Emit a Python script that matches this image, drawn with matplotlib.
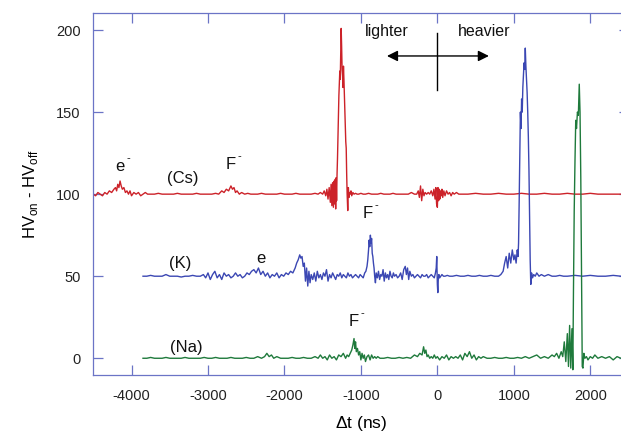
import matplotlib.pyplot as plt

plt.rcParams['font.family'] = ['Liberation Sans', 'DejaVu Sans']
plt.rcParams['mathtext.fontset'] = 'custom'
plt.rcParams['mathtext.rm'] = 'Liberation Sans'
plt.rcParams['axes.unicode_minus'] = False

# HV_on - HV_off difference traces vs time shift (ns), offset by 100 / 50 / 0
cs_t = [-4500, -4470, -4440, -4410, -4380, -4350, -4320, -4290, -4260, -4230,
        -4210, -4195, -4180, -4165, -4150, -4135, -4120, -4100, -4080, -4060,
        -4040, -4020, -4000, -3970, -3940, -3910, -3880, -3850, -3820, -3790,
        -3750, -3700, -3650, -3600, -3550, -3500, -3450, -3400, -3350, -3300,
        -3250, -3200, -3150, -3100, -3050, -3000, -2950, -2900, -2860, -2820,
        -2790, -2760, -2730, -2700, -2680, -2660, -2640, -2620, -2590, -2560,
        -2520, -2480, -2440, -2400, -2350, -2300, -2250, -2200, -2150, -2100,
        -2050, -2000, -1950, -1900, -1850, -1800, -1750, -1700, -1650, -1600,
        -1560, -1530, -1500, -1480, -1460, -1445, -1430, -1415, -1400, -1390,
        -1380, -1370, -1360, -1350, -1342, -1336, -1330, -1324, -1318, -1312,
        -1306, -1300, -1294, -1288, -1282, -1276, -1270, -1264, -1258, -1252,
        -1246, -1240, -1234, -1228, -1222, -1216, -1210, -1204, -1198, -1192,
        -1186, -1180, -1172, -1164, -1156, -1148, -1140, -1130, -1120, -1105,
        -1090, -1070, -1050, -1030, -1000, -970, -940, -900, -860, -820,
        -780, -740, -700, -660, -620, -580, -540, -500, -460, -420,
        -380, -340, -300, -270, -250, -235, -220, -205, -190, -175,
        -160, -140, -120, -100, -80, -60, -45, -30, -20, -10,
        0, 8, 16, 24, 32, 40, 50, 60, 70, 85,
        100, 120, 140, 160, 180, 200, 220, 250, 280, 310,
        350, 400, 500, 600, 700, 800, 900, 1000, 1100, 1200,
        1300, 1400, 1500, 1600, 1700, 1800, 1900, 2000, 2100, 2200,
        2300, 2400, 2500]
cs_v = [100, 99, 101, 100, 99, 101, 100, 102, 101, 103,
        104, 102, 106, 104, 108, 105, 103, 104, 101, 102,
        100, 102, 99, 101, 100, 101, 99, 100, 101, 100,
        100, 100, 100.5, 100, 100, 100, 100, 100.5, 100, 100,
        100, 100, 100.5, 100, 100, 100, 100, 100.5, 100, 102,
        101, 103, 102, 105, 103, 104, 101, 102, 100, 101,
        100, 100.5, 100, 100, 100, 100.5, 100, 100, 100, 100,
        100.5, 100, 100, 100, 100.5, 100, 100, 100, 100, 100.5,
        100, 101, 100, 102, 99, 103, 97, 104, 95, 106,
        93, 107, 92, 108, 94, 109, 91, 110, 96, 112,
        122, 135, 150, 160, 168, 175, 170, 185, 201, 190,
        176, 172, 165, 178, 170, 160, 148, 140, 132, 128,
        112, 100, 90, 104, 98, 101, 100, 102, 99, 101,
        100, 100.5, 100, 100, 100.5, 100, 100, 100.5, 100, 100,
        100, 100.5, 100, 100, 100, 100.5, 100, 100, 100, 100,
        100, 101, 100, 100, 102, 98, 105, 96, 103, 99,
        101, 100, 101, 100, 102, 99, 103, 97, 104, 94,
        92, 104, 96, 103, 97, 102, 99, 103, 98, 102,
        99, 102, 100, 101, 99, 101, 100, 101, 100, 100,
        100, 100, 100.5, 100, 100, 100.5, 100, 100, 100.5, 100,
        100, 100.5, 100, 100, 100.5, 100, 100, 100.5, 100, 100,
        100, 100, 100]

k_t = [-3850, -3800, -3750, -3700, -3650, -3600, -3550, -3500, -3450, -3400,
       -3350, -3300, -3250, -3200, -3150, -3100, -3060, -3030, -3000, -2970,
       -2940, -2910, -2880, -2850, -2820, -2790, -2760, -2730, -2700, -2670,
       -2640, -2610, -2580, -2550, -2520, -2490, -2460, -2430, -2400, -2370,
       -2340, -2310, -2280, -2250, -2220, -2190, -2160, -2130, -2100, -2070,
       -2040, -2010, -1980, -1950, -1920, -1890, -1860, -1840, -1820, -1800,
       -1785, -1770, -1755, -1740, -1725, -1710, -1695, -1680, -1665, -1650,
       -1630, -1610, -1590, -1570, -1550, -1530, -1510, -1490, -1470, -1450,
       -1430, -1410, -1390, -1370, -1350, -1330, -1310, -1290, -1270, -1250,
       -1230, -1210, -1190, -1170, -1150, -1130, -1110, -1090, -1070, -1050,
       -1030, -1010, -990, -970, -950, -935, -920, -910, -900, -892,
       -884, -876, -868, -860, -852, -844, -836, -828, -820, -810,
       -800, -785, -770, -755, -740, -725, -710, -695, -680, -665,
       -650, -635, -620, -605, -590, -575, -560, -540, -520, -500,
       -480, -460, -440, -420, -405, -390, -375, -360, -340, -320,
       -300, -280, -260, -240, -220, -200, -180, -160, -140, -120,
       -100, -80, -60, -40, -25, -15, -8, 0, 6, 12,
       20, 30, 45, 60, 80, 100, 130, 160, 200, 250,
       300, 350, 400, 450, 500, 550, 600, 650, 700, 750,
       800, 830, 860, 880, 900, 920, 940, 960, 980, 1000,
       1015, 1030, 1045, 1055, 1062, 1070, 1078, 1086, 1094, 1102,
       1110, 1118, 1126, 1134, 1142, 1150, 1158, 1166, 1174, 1182,
       1190, 1198, 1206, 1214, 1222, 1232, 1245, 1260, 1280, 1300,
       1330, 1360, 1400, 1450, 1500, 1550, 1600, 1650, 1700, 1800,
       1900, 2000, 2100, 2200, 2300, 2400, 2500]
k_v = [50, 50, 50.5, 50, 50, 50, 51, 50, 50, 50,
       49.5, 50, 50, 50.5, 50, 50, 51, 49, 52, 48,
       51, 53, 49, 51, 48, 52, 50, 51, 49, 50,
       52, 50, 51, 49, 50, 52, 51, 53, 54, 52,
       55, 51, 53, 50, 52, 49, 51, 50, 52, 49,
       51, 50, 52, 51, 53, 52, 55, 58, 60, 63,
       61, 62, 56, 58, 47, 55, 44, 53, 46, 51,
       48, 52, 47, 53, 49, 51, 48, 52, 50, 54,
       47, 51, 49, 52, 50, 48, 51, 50, 52, 49,
       51, 50, 49, 52, 50, 51, 49, 50, 51, 50,
       49, 51, 50, 49, 52, 53, 56, 60, 66, 72,
       68, 75, 70, 73, 64, 62, 58, 55, 50, 46,
       52, 49, 53, 48, 51, 50, 54, 47, 52, 49,
       51, 48, 53, 50, 49, 52, 50, 51, 49, 50,
       52, 48, 54, 56, 51, 55, 48, 53, 50, 51,
       49, 50, 51, 50, 49, 51, 50, 50, 51, 49,
       50, 51, 50, 49, 52, 55, 62, 45, 40, 48,
       51, 49, 50, 51, 50, 50, 50.5, 50, 50, 50.5,
       50, 50, 50.5, 50, 50, 50.5, 50, 50, 50.5, 50,
       50, 51, 53, 58, 62, 55, 64, 58, 66, 60,
       63, 58, 66, 62, 70, 95, 125, 150, 140, 158,
       150, 165, 172, 180, 176, 189, 178, 170, 162, 150,
       135, 115, 85, 60, 45, 52, 49, 51, 50, 52,
       50, 51, 50, 51, 50, 50, 50.5, 50, 50, 50.5,
       50, 50.5, 50, 50, 50.5, 50, 50]

na_t = [-3850, -3800, -3750, -3700, -3650, -3600, -3550, -3500, -3450, -3400,
        -3350, -3300, -3250, -3200, -3150, -3100, -3050, -3000, -2950, -2900,
        -2850, -2800, -2750, -2700, -2650, -2600, -2550, -2500, -2450, -2400,
        -2350, -2300, -2260, -2230, -2200, -2170, -2140, -2100, -2050, -2000,
        -1950, -1900, -1850, -1800, -1750, -1700, -1650, -1600, -1560, -1530,
        -1500, -1470, -1440, -1410, -1380, -1350, -1320, -1290, -1260, -1230,
        -1200, -1180, -1160, -1140, -1120, -1105, -1090, -1080, -1070, -1060,
        -1045, -1030, -1015, -1000, -985, -970, -955, -940, -920, -900,
        -880, -860, -840, -820, -800, -780, -750, -700, -650, -600,
        -550, -500, -450, -400, -350, -300, -260, -230, -200, -180,
        -165, -150, -135, -120, -100, -80, -60, -40, -20, 0,
        30, 60, 90, 120, 150, 180, 210, 240, 270, 300,
        330, 360, 390, 420, 450, 480, 510, 540, 570, 600,
        650, 700, 750, 800, 850, 900, 950, 1000, 1050, 1100,
        1150, 1200, 1250, 1300, 1350, 1400, 1450, 1500, 1530, 1560,
        1590, 1620, 1640, 1660, 1680, 1700, 1715, 1730, 1745, 1760,
        1772, 1780, 1790, 1800, 1810, 1820, 1832, 1844, 1856, 1866,
        1876, 1886, 1895, 1904, 1916, 1930, 1950, 1970, 2000, 2030,
        2060, 2100, 2150, 2200, 2250, 2300, 2350, 2400, 2450, 2500]
na_v = [0, 0, 0.5, 0, 0, 0, 0.5, 0, 0, 0,
        0, 0.5, 0, 0, 0, 0, 0.5, 0, 0, 0.5,
        0, 0, 0, 0.5, 0, 0, 0, 0.5, 0, 0,
        1, 0, 1, 3, 1, 2, 0, 1, 0, 0,
        0, 0.5, 0, 0, 0.5, 0, 0, 1, 0, 2,
        0, 1, -1, 2, 0, 1, -1, 2, 1, 3,
        0, 2, 1, 3, 5, 8, 12, 6, 10, 4,
        6, 2, 4, -1, 3, 0, 2, -2, 1, 2,
        -1, 2, 0, 1, 0, 1, 0, 0, 0.5, 0,
        0, 0.5, 0, 0.5, 0, 2, 1, 3, 2, 7,
        3, 5, 1, 2, 0, 1, 0, 2, 0, 1,
        -1, 1, 0, 2, -1, 1, 0, 1, 0, 2,
        -1, 3, 1, 4, 0, 2, -1, 1, 0, 1,
        0, 0, 0.5, 0, 0, 0.5, 0, 0, 0.5, 0,
        1, 0, 1, 2, 0, 1, 0, 2, 1, 3,
        0, 4, 1, 10, -2, 15, -5, 20, -6, 18,
        -7, 40, 90, 120, 145, 140, 150, 148, 167, 150,
        110, 50, -5, -6, 3, 0, 1, -1, 1, 0,
        2, 0, 1, 0, 1, -1, 1, 0, 1, 0]

red = '#cc2229'
blue = '#3b47b3'
green = '#1f7a3c'
frame = '#6b74c6'

fig = plt.figure(figsize=(6.21, 4.37), dpi=100)
ax = fig.add_axes([93.3 / 621, 62 / 437, 535.2 / 621, 361.7 / 437])

ax.plot(cs_t, cs_v, color=red, lw=1.0)
ax.plot(k_t, k_v, color=blue, lw=1.0)
ax.plot(na_t, na_v, color=green, lw=1.0)

ax.set_xlim(-4500, 2500)
ax.set_ylim(-10.2, 210.2)
ax.set_xticks([-4000, -3000, -2000, -1000, 0, 1000, 2000])
ax.set_yticks([0, 50, 100, 150, 200])

for s in ax.spines.values():
    s.set_color(frame)
    s.set_linewidth(0.9)
ax.tick_params(direction='in', top=True, right=True, length=7, width=0.9,
               color=frame, labelsize=10.5, labelcolor='#222222')
ax.tick_params(axis='x', pad=10)
ax.tick_params(axis='y', pad=9)

ax.set_xlabel(r'$\Delta$t (ns)', fontsize=12.5, labelpad=8)
ax.set_ylabel(r'HV$_{\mathregular{on}}$ - HV$_{\mathregular{off}}$', fontsize=12, labelpad=12)

lab = dict(fontsize=12, ha='center', va='center', color='#111111')


def ion(x, y, s, minus=False):
    ax.text(x, y, s, **lab)
    if minus:
        # small raised dash after the letter
        ax.annotate('-', (x, y), xytext=(6, 6), textcoords='offset points',
                    fontsize=8, ha='center', va='center', color='#111111')


ion(-4150, 117, 'e', minus=True)
ion(-3333, 109.8, '(Cs)')
ion(-2702, 117.8, 'F', minus=True)
ion(-3358, 57.9, '(K)')
ion(-2314, 60.5, 'e')
ion(-912, 88.5, 'F', minus=True)
ion(-3281, 6.7, '(Na)')
ion(-1094, 22.5, 'F', minus=True)

ax.text(-667, 199, 'lighter', fontsize=11.5, ha='center', va='center', color='#111111')
ax.text(618, 199, 'heavier', fontsize=11.5, ha='center', va='center', color='#111111')
ax.annotate('', xy=(-659, 184.2), xytext=(674, 184.2),
            arrowprops=dict(arrowstyle='<|-|>', color='black', lw=1.0,
                            mutation_scale=16, shrinkA=0, shrinkB=0))
ax.plot([0, 0], [163.4, 198], color='black', lw=1.0)

fig.savefig('out.png', dpi=100)
